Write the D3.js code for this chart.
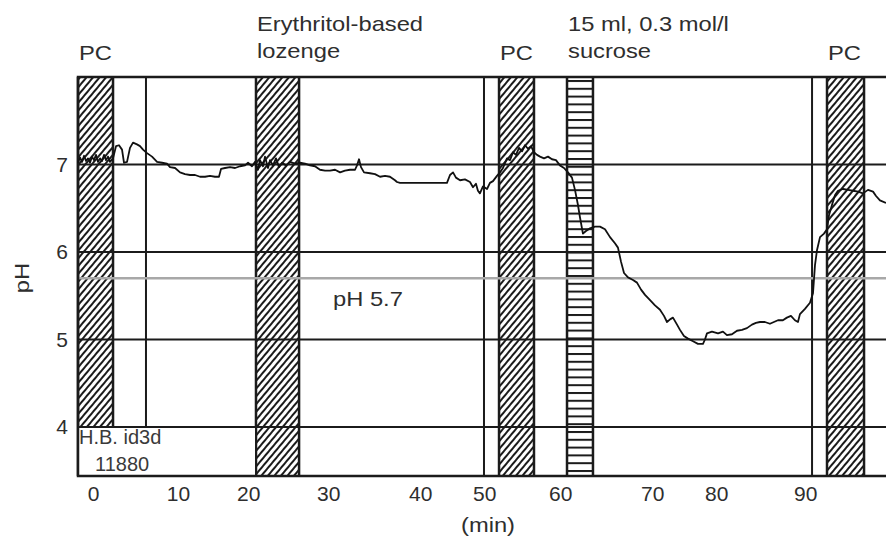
<!DOCTYPE html>
<html>
<head>
<meta charset="utf-8">
<script src="https://cdn.jsdelivr.net/npm/d3@7"></script>
<style>
  body { margin: 0; background: #fff; }
  svg { display: block; font-family: "Liberation Sans", Arial, sans-serif; }
</style>
</head>
<body>
<svg id="chart" width="886" height="540"></svg>
<script>
// pH trace (minutes / pH)
const minutes = [
  -1.90, -1.65, -1.39, -1.14, -0.89, -0.64, -0.39, -0.14, 0.11, 0.36, 0.62, 0.87, 1.12, 1.37, 1.62, 1.87, 2.12, 2.50,
  2.88, 3.25, 3.63, 3.88, 4.26, 4.63, 5.01, 5.51, 5.89, 6.27, 6.77, 7.40, 8.03, 8.66, 9.28, 9.66, 10.29, 10.92,
  11.54, 12.17, 12.80, 13.43, 14.06, 14.68, 15.31, 15.81, 16.07, 16.57, 17.20, 17.83, 18.45, 19.08, 19.46, 19.96,
  20.34, 20.71, 20.96, 21.34, 21.59, 21.97, 22.22, 22.59, 22.97, 23.35, 23.73, 24.23, 24.73, 25.36, 25.99, 26.62,
  27.24, 27.87, 28.50, 29.13, 29.76, 30.39, 31.02, 31.64, 32.27, 32.90, 33.15, 33.40, 33.65, 34.03, 34.78, 35.41,
  36.04, 36.67, 37.29, 37.92, 38.17, 38.55, 39.81, 41.06, 42.32, 43.57, 44.45, 44.83, 45.21, 45.58, 46.09, 46.71,
  47.34, 47.72, 48.09, 48.34, 48.59, 48.97, 49.48, 49.85, 50.23, 50.73, 51.11, 51.49, 51.99, 52.37, 52.75, 53.12,
  53.50, 53.88, 54.25, 54.63, 55.01, 55.38, 55.76, 56.14, 56.64, 57.14, 57.64, 58.14, 58.64, 59.15, 59.65, 60.15,
  60.53, 60.90, 61.15, 61.53, 61.91, 62.41, 63.04, 63.67, 64.30, 64.93, 65.55, 65.93, 66.31, 66.69, 67.19, 67.82,
  68.32, 68.83, 69.33, 69.96, 70.58, 71.21, 71.71, 72.09, 72.47, 72.84, 73.35, 73.72, 74.22, 74.73, 75.36, 75.98,
  76.61, 76.86, 77.11, 77.74, 78.50, 79.12, 79.62, 80.25, 80.88, 81.51, 82.13, 82.76, 83.26, 83.77, 84.39, 85.02,
  85.52, 86.03, 86.65, 87.15, 87.66, 88.16, 88.54, 88.79, 89.42, 90.05, 90.43, 90.68, 90.93, 91.31, 91.81, 92.19,
  92.44, 92.82, 93.20, 93.57, 94.20, 94.83, 95.46, 96.09, 96.71, 97.34, 97.97, 98.35, 98.84, 99.60
];
const phValues = [
  7.02, 7.08, 7.03, 7.10, 7.04, 7.07, 7.02, 7.09, 7.05, 7.11, 7.03, 7.07, 7.04, 7.11, 7.05, 7.09, 7.03, 7.07,
  7.21, 7.22, 7.17, 7.02, 7.03, 7.19, 7.25, 7.23, 7.21, 7.17, 7.13, 7.09, 7.03, 7.02, 7.01, 6.97, 6.96, 6.91,
  6.89, 6.88, 6.88, 6.86, 6.86, 6.87, 6.86, 6.86, 6.95, 6.96, 6.97, 6.96, 6.98, 6.99, 7.02, 6.98,
  7.03, 6.94, 7.05, 6.98, 7.09, 6.96, 7.05, 6.99, 7.07, 6.97, 7.02, 6.99, 7.03, 7.01, 7.02, 7.01,
  6.99, 6.98, 6.94, 6.93, 6.93, 6.94, 6.91, 6.93, 6.94, 6.94, 6.99, 7.06, 6.97, 6.91, 6.90, 6.89,
  6.86, 6.87, 6.86, 6.82, 6.80, 6.79, 6.79, 6.79, 6.79, 6.79, 6.79, 6.88, 6.91, 6.85, 6.82, 6.83,
  6.80, 6.74, 6.78, 6.70, 6.67, 6.75, 6.72, 6.79, 6.81, 6.87, 6.91, 6.96, 7.07, 7.05, 7.14, 7.11,
  7.19, 7.15, 7.22, 7.18, 7.21, 7.14, 7.11, 7.09, 7.07, 7.09, 7.06, 7.05, 6.99, 6.96, 6.91, 6.85,
  6.71, 6.54, 6.40, 6.21, 6.24, 6.27, 6.29, 6.29, 6.26, 6.17, 6.10, 6.05, 5.89, 5.76, 5.71, 5.68,
  5.65, 5.57, 5.51, 5.45, 5.39, 5.34, 5.27, 5.20, 5.23, 5.25, 5.17, 5.11, 5.04, 5.01, 4.98, 4.95,
  4.95, 5.00, 5.07, 5.09, 5.07, 5.09, 5.05, 5.06, 5.10, 5.11, 5.13, 5.17, 5.19, 5.20, 5.20, 5.18,
  5.20, 5.22, 5.22, 5.25, 5.27, 5.22, 5.20, 5.29, 5.35, 5.42, 5.53, 5.85, 6.02, 6.17, 6.21, 6.26,
  6.42, 6.54, 6.65, 6.70, 6.72, 6.71, 6.70, 6.69, 6.67, 6.71, 6.69, 6.64, 6.59, 6.56
];

// event periods (minutes)
const pcBars = [[-1.9, 2.5], [50.99, 55.38], [92.19, 96.84]];
const lozengeBars = [[20.46, 25.87]];
const sucroseBars = [[59.53, 62.79]];
const markerLines = [6.64, 49.10, 90.31];

// event labels, attached to the start of each period
const eventStarts = [-1.9, 20.46, 50.99, 59.53, 92.19];
const eventTexts = [["PC"], ["Erythritol-based", "lozenge"], ["PC"], ["15 ml, 0.3 mol/l", "sucrose"], ["PC"]];

const yTicks = [4, 5, 6, 7];
const xTickAt = [0, 10.66, 19.47, 29.52, 41.08, 49.12, 58.67, 70.23, 78.27, 89.45];
const xTickLabels = ["0", "10", "20", "30", "40", "50", "60", "70", "80", "90"];
const refPH = 5.7;

const svg = d3.select("#chart");
const plotL = 78, plotR = 886, plotT = 77, plotB = 476;
const ink = "#1b1b1b", textCol = "#2e2e2e";
const stretch = 1.13;

const x = d3.scaleLinear().domain([-1.9, 99.6]).range([plotL, plotR]);
const y = d3.scaleLinear().domain([3.44, 8]).range([plotB, plotT]);

// patterns
const defs = svg.append("defs");
const diag = defs.append("pattern")
  .attr("id", "diag")
  .attr("patternUnits", "userSpaceOnUse")
  .attr("width", 5).attr("height", 10)
  .attr("patternTransform", "rotate(40)");
diag.append("rect").attr("width", 5).attr("height", 10).attr("fill", "#fff");
diag.append("line").attr("x1", 1).attr("x2", 1).attr("y1", 0).attr("y2", 10)
  .attr("stroke", ink).attr("stroke-width", 2);

const horiz = defs.append("pattern")
  .attr("id", "horiz")
  .attr("patternUnits", "userSpaceOnUse")
  .attr("width", 10).attr("height", 7.8)
  .attr("y", 2);
horiz.append("rect").attr("width", 10).attr("height", 7.8).attr("fill", "#fff");
horiz.append("line").attr("x1", 0).attr("x2", 10).attr("y1", 1).attr("y2", 1)
  .attr("stroke", ink).attr("stroke-width", 2);

function drawBars(data, fill) {
  const gb = svg.append("g");
  gb.selectAll("rect")
    .data(data)
    .enter().append("rect")
    .attr("x", d => x(d[0]))
    .attr("y", plotT)
    .attr("width", d => x(d[1]) - x(d[0]))
    .attr("height", plotB - plotT)
    .attr("fill", fill);
  gb.selectAll("line")
    .data(data.flatMap(d => d))
    .enter().append("line")
    .attr("x1", d => x(d)).attr("x2", d => x(d))
    .attr("y1", plotT).attr("y2", plotB)
    .attr("stroke", ink).attr("stroke-width", 2.5);
}

drawBars(pcBars, "url(#diag)");
drawBars(lozengeBars, "url(#diag)");
drawBars(sucroseBars, "url(#horiz)");

// marker lines
svg.append("g").selectAll("line")
  .data(markerLines)
  .enter().append("line")
  .attr("x1", d => x(d)).attr("x2", d => x(d))
  .attr("y1", plotT).attr("y2", plotB)
  .attr("stroke", ink).attr("stroke-width", 2);

// white id box bottom left
svg.append("rect")
  .attr("x", plotL + 1).attr("y", y(4))
  .attr("width", x(lozengeBars[0][0]) - plotL - 2)
  .attr("height", plotB - y(4))
  .attr("fill", "#fff");

svg.append("text").attr("x", plotL + 1).attr("y", 444)
  .attr("font-size", 20).attr("fill", "#3a3a3a").text("H.B. id3d");
svg.append("text").attr("x", plotL + 17).attr("y", 471)
  .attr("font-size", 20).attr("fill", "#3a3a3a").text("11880");

// grid lines
svg.append("g").selectAll("line")
  .data(yTicks)
  .enter().append("line")
  .attr("x1", plotL).attr("x2", plotR)
  .attr("y1", d => y(d)).attr("y2", d => y(d))
  .attr("stroke", ink).attr("stroke-width", 2);

// reference pH line
svg.append("line")
  .attr("x1", plotL).attr("x2", plotR)
  .attr("y1", y(refPH)).attr("y2", y(refPH))
  .attr("stroke", "#a8a8a8").attr("stroke-width", 2.5);

// frame: top, left, bottom
svg.append("path")
  .attr("d", `M${plotR},${plotT}H${plotL}V${plotB}H${plotR}`)
  .attr("fill", "none").attr("stroke", ink).attr("stroke-width", 2.5);

// trace
const trace = minutes.map((m, i) => ({ m: m, ph: phValues[i] }));
svg.append("path")
  .datum(trace)
  .attr("fill", "none")
  .attr("stroke", "#111")
  .attr("stroke-width", 1.8)
  .attr("stroke-linejoin", "round")
  .attr("d", d3.line().x(d => x(d.m)).y(d => y(d.ph)));

// axes
const xAxis = svg.append("g")
  .attr("transform", `translate(0,${plotB})`)
  .call(d3.axisBottom(x).tickValues(xTickAt).tickFormat((d, i) => xTickLabels[i]).tickSize(0).tickPadding(10));
xAxis.select(".domain").remove();
xAxis.selectAll("text").attr("font-size", 21).attr("font-family", null).attr("fill", textCol);

const yAxis = svg.append("g")
  .attr("transform", `translate(${plotL},0)`)
  .call(d3.axisLeft(y).tickValues(yTicks).tickFormat(d3.format("d")).tickSize(0).tickPadding(10));
yAxis.select(".domain").remove();
yAxis.selectAll("text").attr("font-size", 21).attr("font-family", null).attr("fill", textCol);

// axis titles
svg.append("text")
  .attr("transform", `translate(488,532) scale(${stretch},1)`)
  .attr("text-anchor", "middle").attr("font-size", 21).attr("fill", textCol)
  .text("(min)");
svg.append("text")
  .attr("transform", `translate(29,278) rotate(-90) scale(${stretch},1)`)
  .attr("text-anchor", "middle").attr("font-size", 21).attr("fill", textCol)
  .text("pH");

// reference label
svg.append("text")
  .attr("transform", `translate(333,306) scale(${stretch},1)`)
  .attr("font-size", 21).attr("fill", textCol)
  .text("pH " + refPH);

// event labels
eventStarts.forEach((s, i) => {
  const lines = eventTexts[i];
  const baselines = lines.length === 1 ? [60] : [31, 58];
  lines.forEach((t, j) => {
    svg.append("text")
      .attr("transform", `translate(${x(s) + 1},${baselines[j]}) scale(${stretch},1)`)
      .attr("font-size", 21).attr("fill", textCol)
      .text(t);
  });
});
</script>
</body>
</html>
